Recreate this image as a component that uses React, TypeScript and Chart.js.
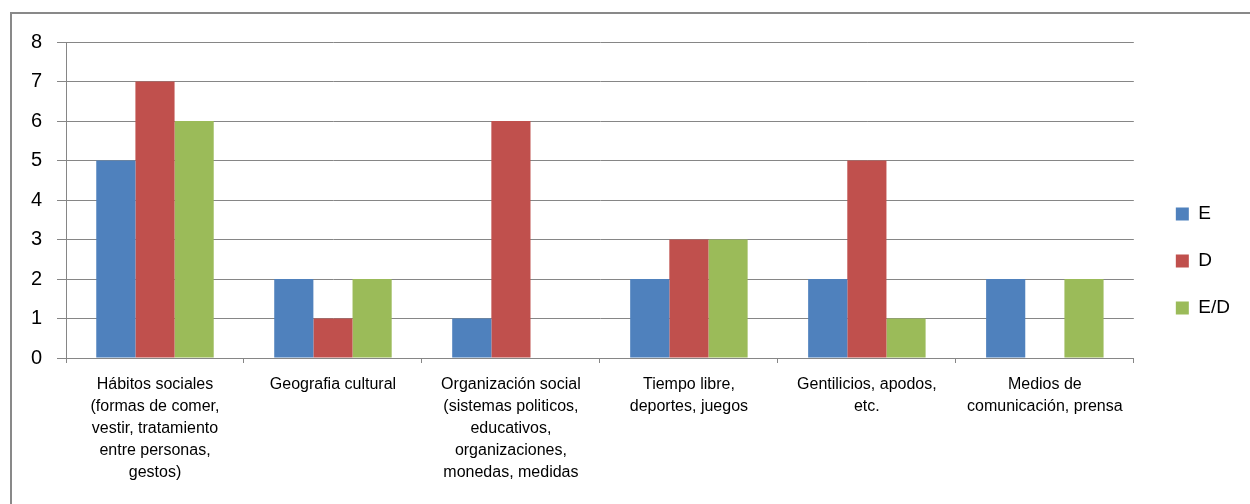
import { useEffect, useRef } from "react";
import { Chart, registerables } from "chart.js";

Chart.register(...registerables);

// Category labels, split into the lines shown under each group
const categories: string[][] = [
  ["Hábitos sociales", "(formas de comer,", "vestir, tratamiento", "entre personas,", "gestos)"],
  ["Geografia cultural"],
  ["Organización social", "(sistemas politicos,", "educativos,", "organizaciones,", "monedas, medidas"],
  ["Tiempo libre,", "deportes, juegos"],
  ["Gentilicios, apodos,", "etc."],
  ["Medios de", "comunicación, prensa"],
];

const seriesNames = ["E", "D", "E/D"];
const valuesE = [5, 2, 1, 2, 2, 2];
const valuesD = [7, 1, 6, 3, 5, 0];
const valuesED = [6, 2, 0, 3, 1, 2];

const yMin = 0;
const yMax = 8;
const yStep = 1;

const COLORS = ["#4F81BD", "#C0504D", "#9BBB59"];
const GRID = "#868686";
const FONT = '"Liberation Sans", Arial, sans-serif';

// Moves the legend block a little right of / above where the layout puts it
const LEGEND_DX = 14;
const LEGEND_DY = -14;
const legendNudge = {
  id: "legendNudge",
  afterLayout(chart: any) {
    const lg = chart.legend;
    if (!lg) return;
    lg.left += LEGEND_DX;
    lg.right += LEGEND_DX;
    lg.top += LEGEND_DY;
    lg.bottom += LEGEND_DY;
  },
};

export default function App() {
  const canvasRef = useRef<HTMLCanvasElement>(null);

  useEffect(() => {
    if (!canvasRef.current) return;
    const chart = new Chart(canvasRef.current, {
      type: "bar",
      data: {
        labels: categories,
        datasets: [valuesE, valuesD, valuesED].map((data, i) => ({
          label: seriesNames[i],
          data,
          backgroundColor: COLORS[i],
          borderWidth: 0,
          categoryPercentage: 0.66,
          barPercentage: 1.0,
        })),
      },
      options: {
        animation: false,
        responsive: false,
        maintainAspectRatio: false,
        layout: { padding: { top: 28, right: 24, bottom: 0, left: 0 } },
        plugins: {
          tooltip: { enabled: false },
          legend: {
            position: "right",
            align: "center",
            labels: {
              boxWidth: 13,
              boxHeight: 13,
              padding: 28,
              color: "#000",
              font: { family: FONT, size: 19 },
            },
          },
        },
        scales: {
          x: {
            grid: {
              offset: true,
              drawOnChartArea: false,
              tickLength: 5,
              color: GRID,
            },
            border: { color: GRID, width: 1 },
            ticks: {
              autoSkip: false,
              maxRotation: 0,
              minRotation: 0,
              padding: 11,
              color: "#000",
              font: { family: FONT, size: 16, lineHeight: 1.375 },
            },
            afterFit(scale: any) {
              scale.height = 150;
            },
          },
          y: {
            min: yMin,
            max: yMax,
            grid: { color: GRID, tickLength: 9 },
            border: { color: GRID, width: 1 },
            ticks: {
              stepSize: yStep,
              padding: 15,
              color: "#000",
              font: { family: FONT, size: 20 },
            },
            afterFit(scale: any) {
              scale.width = 54;
            },
          },
        },
      },
      plugins: [legendNudge],
    });
    return () => chart.destroy();
  }, []);

  return (
    <div
      style={{
        position: "fixed",
        left: 0,
        top: 0,
        width: 1250,
        height: 504,
        overflow: "hidden",
        background: "#fff",
      }}
    >
      <div
        style={{
          position: "absolute",
          left: 10,
          top: 12,
          width: 1260,
          height: 510,
          border: `2px solid #898989`,
        }}
      >
        <canvas
          ref={canvasRef}
          width={1238}
          height={494}
          style={{ position: "absolute", left: 0, top: 0, width: 1238, height: 494 }}
        />
      </div>
    </div>
  );
}
